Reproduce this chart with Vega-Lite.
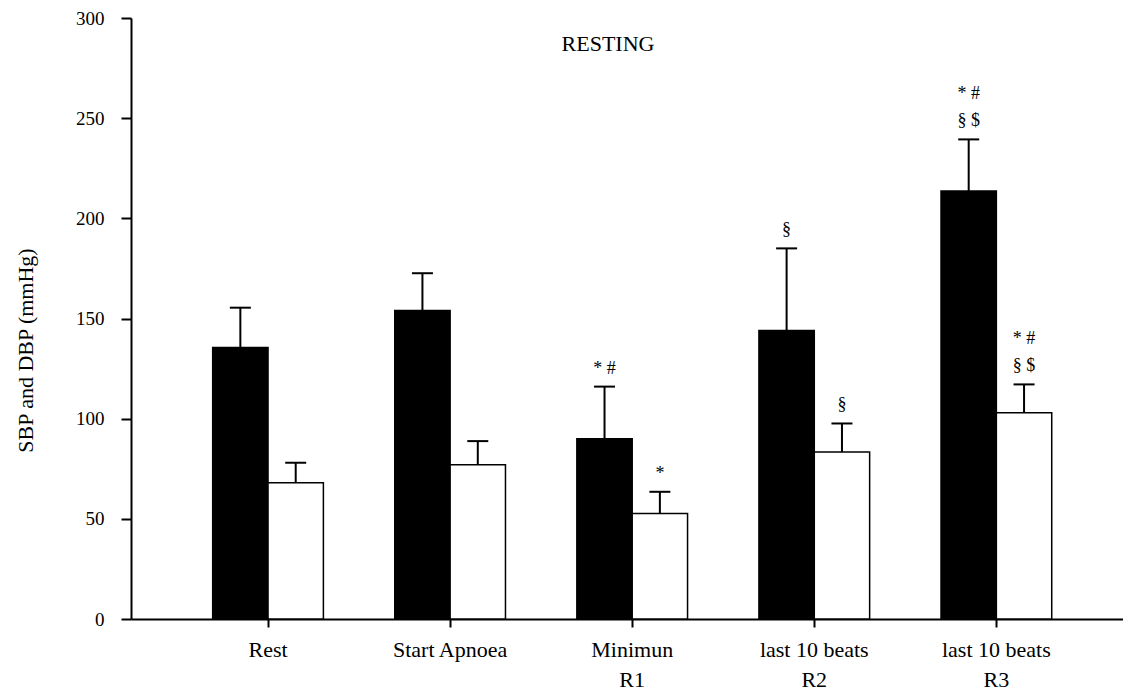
{
  "$schema": "https://vega.github.io/schema/vega-lite/v6.json",
  "width": 992,
  "height": 601,
  "autosize": {"type": "none"},
  "padding": {"left": 131, "top": 18, "right": 0, "bottom": 77},
  "background": "white",
  "title": {
    "text": "RESTING",
    "font": "Liberation Serif",
    "fontSize": 22,
    "fontWeight": "normal",
    "color": "black",
    "anchor": "middle",
    "frame": "group",
    "offset": 0,
    "baseline": "alphabetic",
    "dx": -19,
    "dy": 64
  },
  "config": {
    "view": {"stroke": null},
    "axis": {
      "grid": false,
      "domainColor": "black",
      "domainWidth": 2,
      "tickColor": "black",
      "tickWidth": 2,
      "labelColor": "black",
      "titleColor": "black",
      "labelFont": "Liberation Serif",
      "titleFont": "Liberation Serif",
      "titleFontWeight": "normal"
    }
  },
  "data": {
    "values": [
      {"phase": "Rest", "pressure": "SBP", "mean": 135.5, "upper": 155.4, "sig": "", "sig_top": ""},
      {"phase": "Rest", "pressure": "DBP", "mean": 68, "upper": 78, "sig": "", "sig_top": ""},
      {"phase": "Start Apnoea", "pressure": "SBP", "mean": 154, "upper": 172.6, "sig": "", "sig_top": ""},
      {"phase": "Start Apnoea", "pressure": "DBP", "mean": 77, "upper": 88.8, "sig": "", "sig_top": ""},
      {"phase": "Minimun R1", "pressure": "SBP", "mean": 90, "upper": 116, "sig": "* #", "sig_top": ""},
      {"phase": "Minimun R1", "pressure": "DBP", "mean": 52.7, "upper": 63.5, "sig": "*", "sig_top": ""},
      {"phase": "last 10 beats R2", "pressure": "SBP", "mean": 144, "upper": 185, "sig": "§", "sig_top": ""},
      {"phase": "last 10 beats R2", "pressure": "DBP", "mean": 83.3, "upper": 97.6, "sig": "§", "sig_top": ""},
      {"phase": "last 10 beats R3", "pressure": "SBP", "mean": 213.6, "upper": 239.4, "sig": "§ $", "sig_top": "* #"},
      {"phase": "last 10 beats R3", "pressure": "DBP", "mean": 102.9, "upper": 117.1, "sig": "§ $", "sig_top": "* #"}
    ]
  },
  "encoding": {
    "x": {
      "field": "phase",
      "type": "nominal",
      "sort": null,
      "scale": {"paddingInner": 0.392, "paddingOuter": 0.42, "align": 0.534},
      "axis": {
        "title": null,
        "labelAngle": 0,
        "labelFontSize": 22,
        "labelLineHeight": 30,
        "labelPadding": 12,
        "tickSize": 8,
        "labelOverlap": false,
        "labelExpr": "indexof(datum.label, ' R') > 0 ? [substring(datum.label, 0, lastindexof(datum.label, ' ')), substring(datum.label, lastindexof(datum.label, ' ') + 1)] : datum.label"
      }
    },
    "xOffset": {
      "field": "pressure",
      "type": "nominal",
      "sort": ["SBP", "DBP"],
      "scale": {"paddingInner": 0, "paddingOuter": 0}
    },
    "y": {
      "field": "mean",
      "type": "quantitative",
      "title": "SBP and DBP (mmHg)",
      "scale": {"domain": [0, 300], "nice": false, "zero": true},
      "axis": {
        "titleFontSize": 22,
        "titleX": -99,
        "titleY": 332,
        "titleBaseline": "alphabetic",
        "values": [0, 50, 100, 150, 200, 250, 300],
        "labelFontSize": 19,
        "labelPadding": 17,
        "tickSize": 10
      }
    }
  },
  "layer": [
    {
      "mark": {"type": "bar", "stroke": "black", "strokeWidth": 1.5},
      "encoding": {
        "fill": {
          "field": "pressure",
          "type": "nominal",
          "scale": {"domain": ["SBP", "DBP"], "range": ["#000000", "#ffffff"]},
          "legend": null
        }
      }
    },
    {
      "mark": {"type": "rule", "color": "black", "strokeWidth": 2},
      "encoding": {"y2": {"field": "upper"}}
    },
    {
      "mark": {"type": "tick", "color": "black", "size": 21, "thickness": 2, "opacity": 1},
      "encoding": {"y": {"field": "upper", "type": "quantitative", "title": "SBP and DBP (mmHg)"}}
    },
    {
      "mark": {
        "type": "text",
        "color": "black",
        "font": "Liberation Serif",
        "fontSize": 18,
        "baseline": "bottom",
        "dy": -9
      },
      "encoding": {
        "y": {"field": "upper", "type": "quantitative", "title": "SBP and DBP (mmHg)"},
        "text": {"field": "sig"}
      }
    },
    {
      "mark": {
        "type": "text",
        "color": "black",
        "font": "Liberation Serif",
        "fontSize": 18,
        "baseline": "bottom",
        "dy": -36
      },
      "encoding": {
        "y": {"field": "upper", "type": "quantitative", "title": "SBP and DBP (mmHg)"},
        "text": {"field": "sig_top"}
      }
    }
  ]
}
